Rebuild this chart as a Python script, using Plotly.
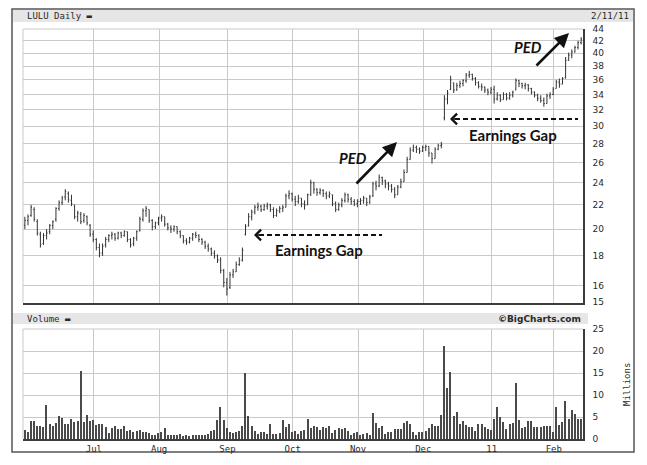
import numpy as np
import pandas as pd
import plotly.graph_objects as go

# ---------------- data ----------------
HOLIDAYS = ["2010-05-31", "2010-07-05", "2010-09-06", "2010-11-25", "2010-12-24", "2011-01-17"]
dates = pd.bdate_range("2010-05-28", "2011-02-11")
dates = dates[~dates.isin(pd.to_datetime(HOLIDAYS))]

OPEN = [
    20.3, 20.7, 21.1, 21.6, 20.6, 19.6, 18.9, 19.5, 19.8, 20.3, 20.8, 21.7, 22.2, 22.7, 23.0, 22.4, 22.0, 21.0, 21.2, 20.7, 21.0, 20.3, 19.6,
    19.2, 18.6, 18.2, 18.8, 19.2, 19.5, 19.6, 19.3, 19.7, 19.5, 19.8, 19.2, 18.9, 19.3, 19.9, 20.8, 21.5, 21.6, 20.7, 20.2, 20.5,
    20.9, 21.0, 20.4, 20.1, 20.0, 20.2, 19.8, 19.5, 19.1, 19.0, 19.3, 19.6, 19.5, 19.2, 19.0, 18.7, 18.5, 18.2, 18.0, 17.7, 17.0, 16.2,
    15.9, 16.7, 16.9, 17.4, 17.7, 19.6, 20.3, 21.0, 21.4, 21.8, 21.9, 21.6, 21.9, 22.0, 21.6, 21.1, 21.5, 21.7, 21.8, 22.8, 23.0,
    22.5, 22.3, 22.6, 22.1, 22.0, 22.9, 24.0, 23.4, 23.1, 23.3, 23.0, 22.8, 22.9, 22.1, 21.6, 22.0, 22.4, 22.9, 22.5, 22.3, 22.1,
    22.3, 22.4, 22.6, 22.2, 22.8, 23.9, 23.7, 24.5, 24.2, 23.9, 23.7, 23.4, 22.9, 23.6, 24.1, 25.0, 26.3, 27.3, 27.6, 27.4, 27.2,
    27.6, 27.7, 27.0, 26.4, 27.4, 27.8, 31.0, 33.4, 34.7, 35.6, 34.6, 35.2, 35.5, 35.9, 36.7, 36.8, 36.2, 35.6, 35.1, 35.0, 34.6, 34.3,
    34.7, 33.4, 33.9, 33.3, 34.0, 33.5, 33.9, 34.6, 35.9, 35.5, 35.2, 35.3, 34.8, 34.3, 33.9, 33.5, 33.2, 32.8, 33.8, 34.0,
    34.8, 35.7, 35.4, 36.3, 38.9, 39.7, 40.2, 40.9, 41.7,
]
HIGH = [
    21.0, 21.2, 22.0, 21.8, 20.8, 19.8, 19.7, 20.0, 20.4, 20.7, 21.8, 22.4, 22.8, 23.4, 23.2, 22.9, 22.0, 21.5, 21.4, 21.3, 21.1, 20.4, 19.9,
    19.3, 18.9, 18.9, 19.4, 19.6, 19.8, 19.7, 19.8, 19.8, 19.9, 19.8, 19.3, 19.4, 19.9, 21.0, 21.7, 21.9, 21.6, 20.8, 20.6, 21.0,
    21.2, 21.0, 20.5, 20.3, 20.3, 20.2, 19.9, 19.5, 19.3, 19.4, 19.7, 19.8, 19.6, 19.3, 19.1, 18.9, 18.6, 18.4, 18.1, 17.9, 17.1, 16.5,
    16.9, 17.1, 17.6, 17.9, 18.6, 20.4, 21.3, 21.6, 22.0, 22.2, 22.0, 22.1, 22.2, 22.1, 21.8, 21.7, 21.9, 22.0, 23.0, 23.3, 23.1,
    22.8, 22.9, 22.6, 22.4, 23.0, 24.3, 24.1, 23.5, 23.5, 23.4, 23.2, 23.2, 22.9, 22.3, 22.2, 22.6, 23.1, 23.0, 22.7, 22.5, 22.5,
    22.6, 22.8, 22.6, 22.9, 24.1, 24.2, 24.8, 24.6, 24.3, 24.1, 23.9, 23.6, 23.8, 24.4, 25.3, 26.6, 27.6, 27.9, 27.8, 27.6, 27.8,
    27.9, 27.7, 27.0, 27.6, 28.0, 28.2, 33.9, 34.6, 36.6, 35.6, 35.6, 35.9, 36.1, 37.0, 37.3, 36.9, 36.4, 35.8, 35.5, 35.1, 34.8, 35.0,
    35.2, 34.3, 34.0, 34.3, 34.2, 34.3, 34.5, 36.2, 36.0, 35.6, 35.6, 35.4, 34.9, 34.4, 34.1, 33.9, 33.6, 34.1, 34.3, 35.0,
    36.0, 36.2, 36.4, 39.4, 40.1, 40.6, 41.2, 42.0, 42.6,
]
LOW = [
    20.0, 20.3, 21.0, 20.6, 19.5, 18.6, 18.8, 19.2, 19.6, 20.0, 20.6, 21.5, 22.0, 22.4, 22.2, 21.9, 20.8, 20.6, 20.4, 20.5, 20.3, 19.4, 19.0,
    18.4, 17.9, 18.0, 18.6, 19.0, 19.2, 19.1, 19.2, 19.3, 19.4, 19.0, 18.6, 18.7, 19.1, 19.8, 20.6, 21.0, 20.5, 19.9, 20.0, 20.3,
    20.6, 20.2, 19.9, 19.7, 19.8, 19.6, 19.3, 18.9, 18.8, 18.9, 19.1, 19.3, 19.0, 18.8, 18.5, 18.3, 18.0, 17.8, 17.5, 16.8, 15.9, 15.4,
    15.8, 16.5, 16.9, 17.3, 17.6, 19.5, 20.2, 20.7, 21.2, 21.5, 21.4, 21.5, 21.6, 21.4, 20.9, 21.0, 21.3, 21.4, 21.8, 22.5, 22.3,
    21.9, 22.1, 21.8, 21.6, 22.0, 22.8, 23.0, 22.8, 22.9, 22.7, 22.5, 22.6, 21.9, 21.4, 21.5, 21.8, 22.2, 22.2, 22.0, 21.9, 21.8,
    22.0, 22.1, 21.9, 22.1, 22.7, 23.3, 23.6, 23.8, 23.5, 23.3, 23.1, 22.6, 22.9, 23.5, 24.1, 25.0, 26.3, 27.1, 27.0, 26.9, 27.1,
    27.2, 26.6, 25.9, 26.4, 27.3, 27.5, 30.7, 32.7, 34.6, 34.2, 34.5, 34.9, 35.1, 35.6, 36.3, 35.9, 35.2, 34.8, 34.5, 34.2, 33.9, 34.0,
    32.8, 33.2, 33.0, 33.3, 33.2, 33.3, 33.6, 34.6, 35.0, 34.8, 34.7, 34.4, 34.0, 33.6, 33.1, 32.9, 32.4, 32.8, 33.4, 33.9,
    34.8, 34.9, 35.4, 36.2, 38.8, 39.2, 40.1, 40.6, 41.4,
]
CLOSE = [
    20.7, 21.0, 21.8, 20.8, 19.7, 18.8, 19.5, 19.7, 20.3, 20.6, 21.7, 22.2, 22.6, 23.2, 22.5, 22.1, 21.0, 21.3, 20.6, 21.1, 20.5, 19.6, 19.2,
    18.6, 18.2, 18.7, 19.2, 19.5, 19.6, 19.3, 19.7, 19.5, 19.8, 19.2, 18.8, 19.3, 19.8, 20.8, 21.5, 21.7, 20.7, 20.2, 20.5, 20.9,
    21.0, 20.4, 20.1, 20.0, 20.2, 19.8, 19.5, 19.1, 19.0, 19.3, 19.6, 19.5, 19.2, 19.0, 18.7, 18.5, 18.2, 18.0, 17.7, 17.0, 16.2, 15.8,
    16.7, 16.9, 17.4, 17.7, 18.4, 20.2, 21.0, 21.4, 21.8, 21.9, 21.6, 21.9, 22.0, 21.6, 21.1, 21.5, 21.7, 21.8, 22.8, 23.0, 22.5,
    22.3, 22.6, 22.1, 22.0, 22.9, 24.0, 23.4, 23.1, 23.3, 23.0, 22.8, 23.0, 22.1, 21.6, 22.0, 22.4, 22.9, 22.5, 22.3, 22.1, 22.3,
    22.4, 22.6, 22.2, 22.7, 23.9, 23.7, 24.5, 24.2, 23.9, 23.7, 23.4, 22.9, 23.6, 24.1, 25.0, 26.3, 27.3, 27.6, 27.4, 27.2, 27.6,
    27.7, 27.0, 26.4, 27.4, 27.8, 27.9, 33.4, 34.2, 36.0, 34.6, 35.2, 35.5, 35.9, 36.7, 36.8, 36.2, 35.6, 35.1, 35.0, 34.6, 34.3, 34.7,
    33.4, 33.9, 33.3, 34.0, 33.5, 33.9, 34.3, 35.9, 35.5, 35.2, 35.3, 34.8, 34.3, 33.9, 33.5, 33.2, 32.8, 33.8, 34.0, 34.7,
    35.7, 35.4, 36.2, 38.9, 39.7, 40.2, 40.9, 41.7, 42.3,
]
VOLUME_M = [
    2.1, 1.7, 4.2, 4.2, 3.0, 2.9, 2.8, 7.7, 3.3, 2.9,
    3.6, 5.2, 4.8, 3.3, 3.5, 4.6, 3.8, 4.2, 15.4, 3.9,
    5.4, 4.0, 4.4, 3.1, 3.4, 3.3, 2.7, 1.4, 2.5, 3.0,
    2.3, 2.2, 2.9, 1.9, 2.1, 1.7, 1.8, 2.1, 1.7, 1.6,
    1.4, 1.0, 1.0, 1.4, 1.5, 2.5, 1.0, 0.9, 0.8, 0.9,
    1.1, 0.6, 0.8, 0.7, 0.8, 0.9, 0.9, 0.8, 0.8, 1.1,
    1.9, 2.1, 4.4, 7.3, 4.4, 2.5, 1.7, 1.4, 1.5, 1.9,
    2.9, 15.0, 5.2, 2.9, 1.9, 1.2, 1.7, 1.7, 1.2, 3.5,
    1.1, 1.2, 1.4, 4.4, 2.7, 3.5, 1.5, 1.9, 1.2, 1.9,
    2.1, 4.6, 2.5, 2.9, 2.8, 2.1, 2.7, 2.5,
    3.0, 1.4, 2.1, 2.5, 2.3, 2.5, 1.9, 1.0, 1.4, 1.7,
    1.0, 1.2, 1.4, 1.0, 5.9, 3.6, 2.5, 2.9, 1.1, 1.7,
    1.5, 2.3, 2.3, 2.3, 3.6, 4.0, 3.3, 1.5, 1.0, 1.6,
    1.6, 1.9, 2.5, 3.3, 3.0, 3.0, 5.4, 21.2, 11.6, 15.2,
    5.3, 6.1, 3.5, 4.2, 3.1, 2.7, 2.7, 1.9, 3.5, 3.5,
    2.7, 2.2, 2.0, 4.6, 7.2, 5.0, 3.8, 2.3, 3.3, 3.6,
    12.8, 4.4, 2.5, 2.7, 4.0, 4.2, 2.8, 2.8, 2.7, 3.0,
    2.9, 3.0, 1.5, 7.2, 3.2, 3.8, 8.6, 4.6, 6.6, 5.6,
    4.6, 4.6,
]
PRICE_TICKS = [15, 16, 18, 20, 22, 24, 26, 28, 30, 32, 34, 36, 38, 40, 42, 44]
VOLUME_TICKS = [0, 5, 10, 15, 20, 25]
MONTH_LABELS = ["Jul", "Aug", "Sep", "Oct", "Nov", "Dec", "11", "Feb"]
TITLE = "LULU Daily"
LAST_DATE = "2/11/11"

n = len(dates)
assert n == len(CLOSE) == len(OPEN) == len(HIGH) == len(LOW) == len(VOLUME_M)
xi = np.arange(n)

# first trading day of each month -> month gridlines (June start not labelled)
month_key = dates.to_period("M")
first_idx = [i for i in range(1, n) if month_key[i] != month_key[i - 1]]
first_idx = first_idx[1:]
month_ticks = [i - 0.8 for i in first_idx]

# ---------------- layout geometry (page pixels) ----------------
PAGE_W, PAGE_H = 647, 465
BODY = 8                      # default body margin of the html page
W, H = PAGE_W - BODY, PAGE_H - BODY
L, R, T, B = 23, 583, 29, 439  # plot area in page pixels
PRICE_BOTTOM, VOL_TOP = 303, 329


def PX(x):
    return (x - L) / (R - L)


def PY(y):
    return (B - y) / (B - T)


GRID = "#c9c9c9"
DARK = "#3c3c3c"
TXT = "#2a2a2a"
BAND = "#e6e6e6"

fig = go.Figure()
fig.add_trace(go.Ohlc(
    x=xi, open=OPEN, high=HIGH, low=LOW, close=CLOSE,
    increasing_line_color="#333333", decreasing_line_color="#333333",
    line_width=1, tickwidth=0.3, xaxis="x", yaxis="y", showlegend=False,
))
fig.add_trace(go.Bar(
    x=xi, y=VOLUME_M, marker_color="#4a4a4a", marker_line_width=0, width=0.42,
    xaxis="x2", yaxis="y2", showlegend=False,
))

xr = [-0.6, n - 0.4]
common_x = dict(range=xr, tickvals=month_ticks, showgrid=True, gridcolor=GRID, gridwidth=1,
                zeroline=False, showline=True, linecolor=DARK, linewidth=1.5, ticks="",
                fixedrange=True)

fig.update_layout(
    width=W, height=H,
    margin=dict(l=L - BODY, r=PAGE_W - R, t=T - BODY, b=PAGE_H - B, pad=0),
    paper_bgcolor="white", plot_bgcolor="white",
    font=dict(family="DejaVu Sans", size=9, color=TXT),
    xaxis=dict(**common_x, anchor="y", showticklabels=False, rangeslider=dict(visible=False)),
    xaxis2=dict(**common_x, anchor="y2", ticktext=MONTH_LABELS, showticklabels=True,
                tickfont=dict(family="DejaVu Sans Mono", size=9, color=TXT)),
    yaxis=dict(domain=[PY(PRICE_BOTTOM), 1], type="log",
               range=[np.log10(14.95), np.log10(44)], side="right",
               tickvals=PRICE_TICKS, ticktext=[str(v) for v in PRICE_TICKS],
               showgrid=True, gridcolor=GRID, zeroline=False, showline=True,
               linecolor=DARK, linewidth=1.5, ticks="", ticklabelstandoff=6,
               tickfont=dict(family="DejaVu Sans", size=9, color=TXT)),
    yaxis2=dict(domain=[0, PY(VOL_TOP)], range=[0, 25], side="right",
                tickvals=VOLUME_TICKS, showgrid=True, gridcolor=GRID, zeroline=False,
                showline=True, linecolor=DARK, linewidth=1.5, ticks="", ticklabelstandoff=6,
                tickfont=dict(family="DejaVu Sans", size=9, color=TXT)),
    bargap=0,
)

shapes = []
shapes.append(dict(type="rect", xref="paper", yref="paper",
                   x0=PX(12), x1=PX(634), y0=PY(452), y1=PY(9),
                   line=dict(color="#555555", width=1.5), fillcolor="rgba(0,0,0,0)", layer="below"))
shapes.append(dict(type="rect", xref="paper", yref="paper",
                   x0=PX(13), x1=PX(633), y0=PY(22), y1=PY(10),
                   line=dict(width=0), fillcolor=BAND, layer="below"))
shapes.append(dict(type="rect", xref="paper", yref="paper",
                   x0=PX(13), x1=PX(588), y0=PY(324), y1=PY(313),
                   line=dict(width=0), fillcolor=BAND, layer="below"))
for top, bot in [(T, PRICE_BOTTOM), (VOL_TOP, B)]:
    shapes.append(dict(type="line", xref="paper", yref="paper", x0=0, x1=0, y0=PY(bot), y1=PY(top),
                       line=dict(color=GRID, width=1)))
    shapes.append(dict(type="line", xref="paper", yref="paper", x0=0, x1=1, y0=PY(top), y1=PY(top),
                       line=dict(color=GRID, width=1)))
for x0, x1, y in [(259, 382, 235), (455, 578, 119)]:
    shapes.append(dict(type="line", xref="paper", yref="paper", x0=PX(x0), x1=PX(x1),
                       y0=PY(y), y1=PY(y), line=dict(color="#111111", width=1.8, dash="5px,3px")))
fig.update_layout(shapes=shapes)

ann = []


def text(x, y, s, **kw):
    d = dict(xref="paper", yref="paper", x=PX(x), y=PY(y), text=s, showarrow=False)
    d.update(kw)
    ann.append(d)


text(25, 16, TITLE + " \u25ac", xanchor="left", yanchor="middle",
     font=dict(family="DejaVu Sans Mono", size=9, color=TXT))
text(631, 16, LAST_DATE, xanchor="right", yanchor="middle",
     font=dict(family="DejaVu Sans Mono", size=9, color=TXT))
text(25, 318.5, "Volume \u25ac", xanchor="left", yanchor="middle",
     font=dict(family="DejaVu Sans Mono", size=9, color=TXT))
text(583, 318.5, "<b>\u00a9BigCharts.com</b>", xanchor="right", yanchor="middle",
     font=dict(family="DejaVu Sans", size=9, color=TXT))
text(627, 385, "Millions", textangle=-90, xanchor="center", yanchor="middle",
     font=dict(family="DejaVu Sans Mono", size=9, color=TXT))

AFONT = dict(family="Lato", size=15, color="#111111")
text(353, 158, "<b><i>PED</i></b>", xanchor="center", yanchor="middle", font=AFONT)
text(528, 47, "<b><i>PED</i></b>", xanchor="center", yanchor="middle", font=AFONT)
text(319, 250, "<b>Earnings Gap</b>", xanchor="center", yanchor="middle", font=AFONT)
text(513, 135, "<b>Earnings Gap</b>", xanchor="center", yanchor="middle", font=AFONT)

for hx, hy, tx, ty in [(397, 142, 355, 185), (569, 33, 535, 67)]:
    ann.append(dict(xref="paper", yref="paper", x=PX(hx), y=PY(hy), ax=tx - hx, ay=ty - hy,
                    text="", showarrow=True, arrowhead=2, arrowsize=1.1, arrowwidth=2.6,
                    arrowcolor="#111111"))
for hx, y in [(254, 235), (450, 119)]:
    ann.append(dict(xref="paper", yref="paper", x=PX(hx), y=PY(y), ax=8, ay=0,
                    text="", showarrow=True, arrowhead=4, arrowsize=1.3, arrowwidth=1.6,
                    arrowcolor="#111111"))

fig.update_layout(annotations=ann)
fig.write_html("out.html")
